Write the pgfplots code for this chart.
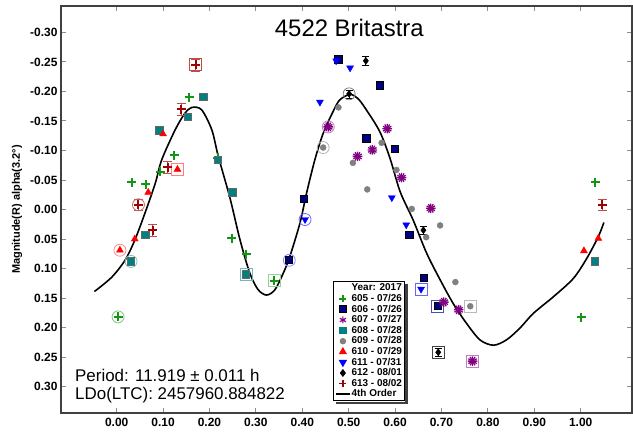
\documentclass[border=0pt]{standalone}
\usepackage{fontspec}
\setmainfont{Liberation Sans}
\usepackage{pgfplots}
\pgfplotsset{compat=1.18}
\definecolor{cgreen}{RGB}{20,150,20}
\definecolor{cnavy}{RGB}{0,0,128}
\definecolor{cpurple}{RGB}{128,0,128}
\definecolor{cteal}{RGB}{0,128,128}
\definecolor{cgray}{RGB}{128,128,128}
\definecolor{cred}{RGB}{255,0,0}
\definecolor{cblue}{RGB}{0,0,255}
\definecolor{cdred}{RGB}{160,0,0}
\begin{document}
\begin{tikzpicture}
\useasboundingbox (-61bp,-22bp) rectangle (572bp,413bp);
\begin{axis}[
  at={(0,0)}, anchor=south west,
  scale only axis, width=571bp, height=407bp,
  xmin=-0.12, xmax=1.1106, ymin=-0.3449, ymax=0.3449, y dir=reverse,
  axis line style={line width=1.5bp, black!75},
  tick align=inside, major tick length=5bp,
  tick style={black!45, line width=1bp},
  xtick={0,0.1,0.2,0.3,0.4,0.5,0.6,0.7,0.8,0.9,1.0},
  xticklabels={0.00,0.10,0.20,0.30,0.40,0.50,0.60,0.70,0.80,0.90,1.00},
  ytick={-0.30,-0.25,-0.20,-0.15,-0.10,-0.05,0,0.05,0.10,0.15,0.20,0.25,0.30},
  yticklabels={-0.30,-0.25,-0.20,-0.15,-0.10,-0.05,0.00,0.05,0.10,0.15,0.20,0.25,0.30},
  tick label style={font=\fontsize{12}{12}\selectfont\bfseries},
  xticklabel style={yshift=-2bp},
  every axis y label/.style={at={(axis description cs:-0.077,0.5)}, rotate=90, anchor=center},
  ylabel={Magnitude(R) alpha(3.2°)},
  ylabel style={font=\fontsize{11}{12}\selectfont\bfseries},
  legend style={name=leg, at={(axis cs:0.466,0.121)}, anchor=north west, draw=black, line width=1bp, fill=white,
    font=\fontsize{10}{10}\selectfont\bfseries, inner sep=1.5bp,
    nodes={inner sep=0.7bp, text height=7.4bp, text depth=1.8bp}},
  legend cell align=left,
  legend image code/.code={\draw[mark repeat=2,mark phase=2,#1] plot coordinates {(0cm,0cm) (0.25cm,0cm) (0.5cm,0cm)};},
]
% legend
\addlegendimage{empty legend}\addlegendentry{Year: 2017}
\addlegendimage{only marks, mark=+, cgreen, mark size=3.5bp, line width=1.8bp}\addlegendentry{605 - 07/26}
\addlegendimage{only marks, mark=square*, mark options={fill=cnavy, draw=black, line width=0.8bp}, mark size=3.5bp}\addlegendentry{606 - 07/26}
\addlegendimage{only marks, mark=asterisk, cpurple, mark size=3.5bp, line width=1.2bp}\addlegendentry{607 - 07/27}
\addlegendimage{only marks, mark=square*, mark options={fill=cteal, draw=cteal}, mark size=3.2bp}\addlegendentry{608 - 07/28}
\addlegendimage{only marks, mark=*, mark options={fill=cgray, draw=cgray}, mark size=2.7bp}\addlegendentry{609 - 07/28}
\addlegendimage{only marks, mark=triangle*, mark options={fill=cred, draw=cred}, mark size=3.8bp}\addlegendentry{610 - 07/29}
\addlegendimage{only marks, mark=triangle*, mark options={fill=cblue, draw=cblue, rotate=180}, mark size=3.8bp}\addlegendentry{611 - 07/31}
\addlegendimage{only marks, mark=diamond*, mark options={fill=black, draw=black}, mark size=3.2bp}\addlegendentry{612 - 08/01}
\addlegendimage{only marks, mark=+, cdred, mark size=3.5bp, line width=1.8bp}\addlegendentry{613 - 08/02}
\addlegendimage{black, line width=1.8bp}\addlegendentry{4th Order}

% fit curve
\addplot[black, line width=1.6bp, smooth, forget plot] coordinates {
(-0.048,0.139) (-0.011,0.115) (0.018,0.086) (0.039,0.052) (0.061,0.006) (0.083,-0.044)
(0.097,-0.084) (0.126,-0.135) (0.147,-0.163) (0.162,-0.173) (0.183,-0.169) (0.205,-0.135)
(0.219,-0.090) (0.244,-0.020) (0.266,0.052) (0.287,0.108) (0.305,0.136) (0.323,0.145)
(0.341,0.136) (0.359,0.108) (0.373,0.080) (0.395,0.023) (0.409,-0.027) (0.427,-0.084)
(0.445,-0.129) (0.467,-0.167) (0.481,-0.186) (0.503,-0.195) (0.520,-0.188) (0.538,-0.169)
(0.567,-0.132) (0.589,-0.087) (0.611,-0.030) (0.639,0.018) (0.668,0.074) (0.697,0.119)
(0.725,0.159) (0.754,0.193) (0.783,0.221) (0.812,0.230) (0.840,0.221) (0.869,0.201)
(0.898,0.176) (0.941,0.148) (0.984,0.117) (1.013,0.083) (1.038,0.046) (1.050,0.022)};

% highlight rings (first points)
\addplot[only marks, mark=o, mark size=6bp, line width=0.8bp, cgreen!55, forget plot] coordinates {(0.003,0.182)};
\addplot[only marks, mark=o, mark size=6bp, line width=0.8bp, cblue!45, forget plot] coordinates {(0.372,0.086)};
\addplot[only marks, mark=o, mark size=6bp, line width=0.8bp, cpurple!50, forget plot] coordinates {(0.456,-0.140)};
\addplot[only marks, mark=o, mark size=6bp, line width=0.8bp, cteal!50, forget plot] coordinates {(0.031,0.088)};
\addplot[only marks, mark=o, mark size=6bp, line width=0.8bp, cgray!60, forget plot] coordinates {(0.445,-0.105)};
\addplot[only marks, mark=o, mark size=6bp, line width=0.8bp, cred!45, forget plot] coordinates {(0.007,0.069)};
\addplot[only marks, mark=o, mark size=6bp, line width=0.8bp, cblue!60, forget plot] coordinates {(0.406,0.017)};
\addplot[only marks, mark=o, mark size=6bp, line width=0.8bp, black!50, forget plot] coordinates {(0.501,-0.196)};
\addplot[only marks, mark=o, mark size=6bp, line width=0.8bp, cdred!60, forget plot] coordinates {(0.047,-0.008)};
% highlight boxes (last points)
\addplot[only marks, mark=square, mark size=6bp, line width=1bp, cgreen!45, forget plot] coordinates {(0.340,0.121)};
\addplot[only marks, mark=square, mark size=6bp, line width=1bp, cblue!60!black!70, forget plot] coordinates {(0.692,0.164)};
\addplot[only marks, mark=square, mark size=6bp, line width=1bp, cpurple!50, forget plot] coordinates {(0.767,0.257)};
\addplot[only marks, mark=square, mark size=6bp, line width=1bp, cteal!55, forget plot] coordinates {(0.279,0.110)};
\addplot[only marks, mark=square, mark size=6bp, line width=1bp, cgray!55, forget plot] coordinates {(0.762,0.164)};
\addplot[only marks, mark=square, mark size=6bp, line width=1bp, cred!50, forget plot] coordinates {(0.131,-0.068)};
\addplot[only marks, mark=square, mark size=6bp, line width=1bp, cblue!60, forget plot] coordinates {(0.656,0.135)};
\addplot[only marks, mark=square, mark size=6bp, line width=1bp, black!75, forget plot] coordinates {(0.693,0.242)};
\addplot[only marks, mark=square, mark size=6bp, line width=1bp, cdred!70, forget plot] coordinates {(0.170,-0.245)};

% 605
\addplot[only marks, mark=+, cgreen, mark size=4.5bp, line width=2bp, forget plot] coordinates {
(0.003,0.182) (0.032,-0.046) (0.063,-0.043) (0.094,-0.064) (0.124,-0.092) (0.156,-0.190)
(0.218,-0.088) (0.248,0.049) (0.279,0.076) (0.340,0.121) (1.001,0.183) (1.031,-0.046)};
% 606
\addplot[only marks, mark=square*, mark options={fill=cnavy, draw=black, line width=1bp}, mark size=3.7bp, forget plot] coordinates {
(0.372,0.086) (0.404,-0.018) (0.478,-0.254) (0.538,-0.120) (0.568,-0.210) (0.600,-0.103)
(0.631,0.043) (0.662,0.116) (0.692,0.164)};
% 607
\addplot[only marks, mark=asterisk, cpurple, mark size=4.8bp, line width=1.3bp, forget plot] coordinates {
(0.456,-0.140) (0.519,-0.090) (0.551,-0.101) (0.583,-0.137) (0.614,-0.054) (0.677,-0.002)
(0.705,0.157) (0.737,0.170) (0.767,0.257)};
\addplot[only marks, mark=asterisk, mark options={rotate=90}, cpurple, mark size=4.8bp, line width=1.3bp, forget plot] coordinates {
(0.456,-0.140) (0.519,-0.090) (0.551,-0.101) (0.583,-0.137) (0.614,-0.054) (0.677,-0.002)
(0.705,0.157) (0.737,0.170) (0.767,0.257)};
% 608
\addplot[only marks, mark=square*, mark options={fill=cteal, draw=black!60, line width=0.8bp}, mark size=3.7bp, forget plot] coordinates {
(0.031,0.088) (0.062,0.043) (0.092,-0.134) (0.154,-0.157) (0.187,-0.191) (0.218,-0.084)
(0.249,-0.029) (0.279,0.110) (1.030,0.088)};
% 609
\addplot[only marks, mark=*, mark options={fill=cgray, draw=cgray}, mark size=3bp, forget plot] coordinates {
(0.445,-0.105) (0.478,-0.173) (0.509,-0.079) (0.540,-0.034) (0.571,-0.113) (0.603,-0.067)
(0.636,-0.001) (0.667,0.047) (0.697,0.027) (0.730,0.123) (0.762,0.164)};
% 610
\addplot[only marks, mark=triangle*, mark options={fill=cred, draw=cred}, mark size=4bp, forget plot] coordinates {
(0.007,0.069) (0.039,0.050) (0.068,-0.029) (0.100,-0.128) (0.131,-0.068) (1.007,0.070) (1.038,0.049)};
% 611
\addplot[only marks, mark=triangle*, mark options={fill=cblue, draw=cblue, rotate=180}, mark size=4bp, forget plot] coordinates {
(0.406,0.017) (0.438,-0.182) (0.473,-0.252) (0.503,-0.240) (0.593,-0.020) (0.624,0.026) (0.656,0.135)};
% 612
\addplot[only marks, mark=diamond*, mark options={fill=black, draw=black}, mark size=3.5bp, black, forget plot,
  error bars/.cd, y dir=both, y fixed=0.007, error bar style={line width=0.8bp}] coordinates {
(0.501,-0.196) (0.537,-0.252) (0.661,0.035) (0.693,0.242)};
% 613
\addplot[only marks, mark=+, cdred, mark size=4.5bp, line width=2bp, forget plot,
  error bars/.cd, y dir=both, y fixed=0.01, error bar style={line width=0.8bp, cdred!70}] coordinates {
(0.047,-0.008) (0.078,0.035) (0.110,-0.072) (0.139,-0.170) (0.170,-0.245) (1.047,-0.008)};

\node[font=\fontsize{24}{28}\selectfont] at (axis description cs:0.505,0.945) {4522 Britastra};
\node[font=\fontsize{17}{20}\selectfont, anchor=base west, inner sep=0pt] at (axis description cs:0.0245,0.0769) {Period: 11.919 ± 0.011 h};
\node[font=\fontsize{17}{20}\selectfont, anchor=base west, inner sep=0pt] at (axis description cs:0.0245,0.0337) {LDo(LTC): 2457960.884822};
\end{axis}
\fill[black!75] ([xshift=0.5bp,yshift=-3bp]leg.north east) rectangle ([xshift=3bp,yshift=-3bp]leg.south east);
\fill[black!75] ([xshift=3bp,yshift=-0.5bp]leg.south west) rectangle ([xshift=3bp,yshift=-3bp]leg.south east);
\end{tikzpicture}
\end{document}
